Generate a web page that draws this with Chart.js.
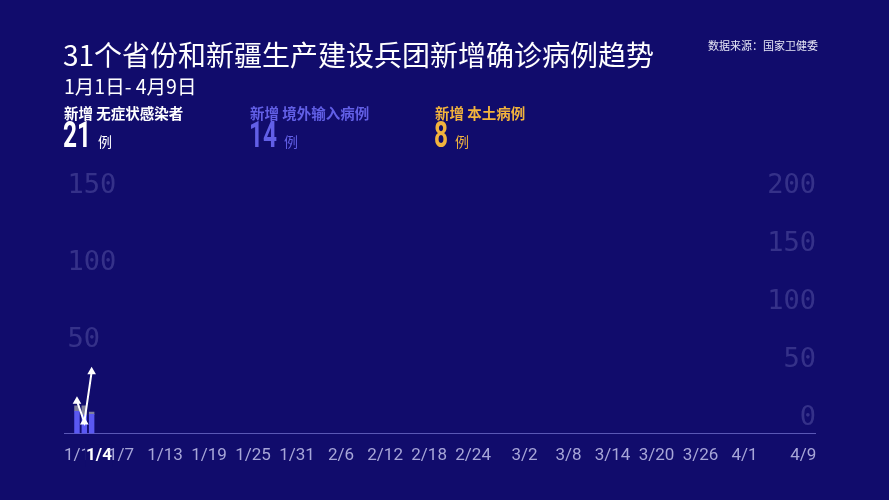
<!DOCTYPE html>
<html>
<head>
<meta charset="utf-8">
<script src="https://cdn.jsdelivr.net/npm/chart.js@4/dist/chart.umd.min.js"></script>
<style>
  html, body { margin: 0; padding: 0; background: #110c6c; }
  #wrap { position: relative; width: 889px; height: 500px; overflow: hidden; font-family: "Noto Sans CJK SC", "Noto Sans", sans-serif; }
  #chartBox { position: absolute; left: 0; top: 0; width: 889px; height: 500px; }
  .txt { position: absolute; white-space: nowrap; }
  #title { left: 63px; top: 36px; font-size: 28px; font-weight: 400; color: #fff; line-height: 36px; }
  #sub { left: 64px; top: 74px; font-size: 19.5px; color: #fff; line-height: 24px; }
  #source { left: 708px; top: 37px; font-size: 11px; color: #e6e6f5; line-height: 16px; }
  .lab { top: 103px; font-size: 14.5px; font-weight: 700; line-height: 20px; }
  .num { top: 115px; font-family: Roboto, "Noto Sans", sans-serif; font-size: 37px; font-weight: 700; line-height: 40px; transform: scaleX(0.66); transform-origin: left top; }
  .unit { top: 131px; font-size: 14px; line-height: 20px; }
</style>
</head>
<body>
<div id="wrap">
  <div id="chartBox"><canvas id="myChart"></canvas></div>
  <div class="txt" id="title">31个省份和新疆生产建设兵团新增确诊病例趋势</div>
  <div class="txt" id="sub">1月1日- 4月9日</div>
  <div class="txt" id="source">数据来源：国家卫健委</div>
  <div class="txt lab" style="left:64px;color:#ffffff">新增 无症状感染者</div>
  <div class="txt num" style="left:63px;color:#ffffff">21</div>
  <div class="txt unit" style="left:98px;color:#ffffff">例</div>
  <div class="txt lab" style="left:250px;color:#625fe6">新增 境外输入病例</div>
  <div class="txt num" style="left:249px;color:#625fe6">14</div>
  <div class="txt unit" style="left:284px;color:#625fe6">例</div>
  <div class="txt lab" style="left:435px;color:#f2b33d">新增 本土病例</div>
  <div class="txt num" style="left:434px;color:#f2b33d">8</div>
  <div class="txt unit" style="left:455px;color:#f2b33d">例</div>
</div>
<script>
// days from 1/1 to 4/9 (2020, leap year)
var monthDays = [31, 29, 31, 9];
var dates = [];
for (var m = 0; m < monthDays.length; m++) {
	for (var d = 1; d <= monthDays[m]; d++) {
		dates.push((m + 1) + '/' + d);
	}
}

// labels shown on the x axis, the current frame's date is highlighted
var shownDates = ['1/1', '1/4', '1/7', '1/13', '1/19', '1/25', '1/31', '2/6', '2/12', '2/18', '2/24',
	'3/2', '3/8', '3/14', '3/20', '3/26', '4/1', '4/9'];
var currentDate = '1/4';

// values drawn so far (animation frame): first three days
var importedBars = [14.5, 12, 12.5];
var otherBars = [3.5, 6, 1.5];
var lineValues = [21, 7.5, 40];

var leftTicks = [50, 100, 150];
var rightTicks = [0, 50, 100, 150, 200];

function points(arr) {
	return arr.map(function (v, i) { return { x: i, y: v }; });
}

function isCurrent(c) {
	return c && c.index !== undefined && shownDates[c.index] === currentDate;
}

var tickFamily = 'Roboto, "Noto Sans", sans-serif';

var ctx = document.getElementById('myChart').getContext('2d');
var chart = new Chart(ctx, {
	type: 'bar',
	data: {
		datasets: [{
			type: 'line',
			label: '新增 无症状感染者',
			data: points(lineValues),
			borderColor: '#ffffff',
			backgroundColor: '#ffffff',
			borderWidth: 2,
			pointRadius: 3,
			pointStyle: 'triangle',
			stack: 'line',
			yAxisID: 'y',
			order: 0
		}, {
			label: '新增 境外输入病例',
			data: points(importedBars),
			backgroundColor: '#5a58f2',
			stack: 'bars',
			yAxisID: 'y',
			barThickness: 4.8,
			order: 1
		}, {
			label: '其他',
			data: points(otherBars),
			backgroundColor: '#80809c',
			stack: 'bars',
			yAxisID: 'y',
			barThickness: 4.8,
			order: 1
		}]
	},
	options: {
		responsive: true,
		maintainAspectRatio: false,
		animation: false,
		layout: { padding: { left: 58.5, right: 72, top: 165, bottom: 22 } },
		plugins: { legend: { display: false }, tooltip: { enabled: false } },
		scales: {
			x: {
				type: 'linear',
				stacked: true,
				offset: false,
				min: -1.7,
				max: 100.6,
				grid: { display: false, drawTicks: false },
				border: { display: true, color: 'rgba(140,140,230,0.6)', width: 1 },
				afterBuildTicks: function (axis) {
					axis.ticks = shownDates.map(function (s) { return { value: dates.indexOf(s) }; });
				},
				ticks: {
					autoSkip: false,
					maxRotation: 0,
					padding: 12,
					callback: function (val) { return dates[val]; },
					color: function (c) { return isCurrent(c) ? '#ffffff' : '#a7a6d8'; },
					font: function (c) {
						return { family: tickFamily, size: 17, weight: isCurrent(c) ? 'bold' : 'normal' };
					},
					showLabelBackdrop: function (c) { return isCurrent(c); },
					backdropColor: '#110c6c',
					backdropPadding: 1
				}
			},
			y: {
				stacked: true,
				position: 'left',
				min: 0,
				max: 174,
				grid: { display: false, drawTicks: false },
				border: { display: false },
				afterBuildTicks: function (axis) {
					axis.ticks = leftTicks.map(function (v) { return { value: v }; });
				},
				ticks: {
					mirror: true,
					padding: 3,
					labelOffset: -16,
					color: 'rgba(200,200,255,0.2)',
					font: { family: '"DejaVu Sans Mono", monospace', size: 27 }
				}
			},
			y2: {
				position: 'right',
				min: 0,
				max: 231.6,
				grid: { display: false, drawTicks: false },
				border: { display: false },
				afterBuildTicks: function (axis) {
					axis.ticks = rightTicks.map(function (v) { return { value: v }; });
				},
				ticks: {
					mirror: true,
					padding: 1,
					labelOffset: -16,
					color: 'rgba(200,200,255,0.2)',
					font: { family: '"DejaVu Sans Mono", monospace', size: 27 }
				}
			}
		}
	}
});
</script>
</body>
</html>
